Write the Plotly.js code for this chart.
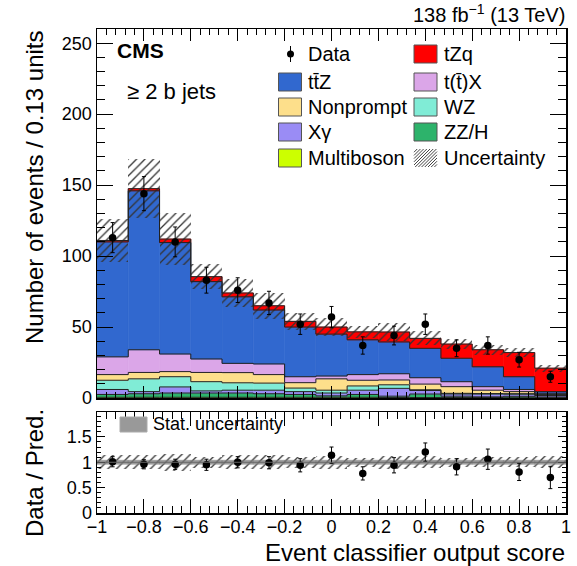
<!DOCTYPE html>
<html><head><meta charset="utf-8">
<script src="https://cdn.plot.ly/plotly-3.0.1.min.js"></script>
<style>html,body{margin:0;padding:0;background:#fff}</style>
</head><body><div id="chart" style="width:577px;height:566px"></div>
<script>
// ---------------- data ----------------
const binEdges = [-1.0, -0.8667, -0.7333, -0.6, -0.4667, -0.3333, -0.2, -0.0667, 0.0667, 0.2, 0.3333, 0.4667, 0.6, 0.7333, 0.8667, 1.0];
const multiboson = [0.5, 0.5, 0.5, 0.5, 0.5, 0.5, 0.5, 0.5, 0.5, 0.3, 0.3, 0.3, 0.3, 0.2, 0.2];
const zzh        = [2.0, 2.5, 3.0, 3.0, 3.0, 2.5, 2.0, 1.0, 2.0, 1.0, 2.5, 1.0, 0.5, 1.0, 0.5];
const xgamma     = [3.5, 1.5, 4.3, 1.5, 2.0, 2.5, 2.0, 2.0, 3.0, 5.5, 2.5, 1.5, 2.0, 1.5, 1.0];
const wz         = [6.5, 9.0, 7.2, 6.5, 5.2, 5.0, 2.5, 2.0, 3.0, 2.5, 0.5, 0.5, 0.3, 0.3, 0.3];
const nonprompt  = [4.0, 4.5, 3.6, 6.5, 7.2, 6.0, 3.8, 8.0, 4.0, 3.4, 4.0, 4.7, 2.4, 1.5, 0.5];
const ttx        = [12.5, 16.0, 12.4, 9.5, 6.5, 7.5, 4.2, 2.0, 4.0, 4.4, 4.5, 3.5, 2.5, 1.5, 0.8];
const ttz        = [81.0, 112.0, 78.5, 54.5, 46.9, 38.0, 35.0, 29.5, 24.5, 22.4, 20.7, 16.5, 14.0, 9.0, 1.2];
const tzq        = [1.0, 1.5, 2.5, 3.5, 2.7, 3.0, 4.0, 5.0, 5.6, 7.0, 7.0, 10.0, 12.0, 17.0, 16.5];
const totalUnc   = [15.0, 21.0, 18.5, 9.0, 10.0, 9.0, 6.0, 6.5, 4.0, 6.0, 5.0, 3.5, 3.5, 3.0, 2.5];
const dataCounts = [113, 144, 110, 83, 76, 67, 52, 57, 37, 44, 52, 35, 37, 27, 15];
const dataErr    = [10.6, 12.0, 10.5, 9.1, 8.7, 8.2, 7.2, 7.5, 6.1, 6.6, 7.2, 5.9, 6.1, 5.2, 3.9];
const ratio      = [1.01, 0.96, 0.96, 0.95, 1.00, 0.99, 0.94, 1.14, 0.78, 0.94, 1.20, 0.91, 1.06, 0.81, 0.70];
const ratioErr   = [0.10, 0.09, 0.10, 0.11, 0.11, 0.12, 0.13, 0.16, 0.13, 0.15, 0.18, 0.16, 0.20, 0.17, 0.22];
const statUnc    = [0.04, 0.04, 0.04, 0.04, 0.04, 0.04, 0.04, 0.04, 0.04, 0.04, 0.04, 0.04, 0.04, 0.04, 0.04];
const legendLeft  = ['Data', 'tt\u0304Z', 'Nonprompt', 'X\u03b3', 'Multiboson'];
const legendRight = ['tZq', 't(t\u0304)X', 'WZ', 'ZZ/H', 'Uncertainty'];

// ---------------- styles ----------------
const stack = [
  {name: 'Multiboson', vals: multiboson, color: '#ccff00'},
  {name: 'ZZ/H', vals: zzh, color: '#2db36b'},
  {name: 'X\u03b3', vals: xgamma, color: '#9a8cf5'},
  {name: 'WZ', vals: wz, color: '#80ecd6'},
  {name: 'Nonprompt', vals: nonprompt, color: '#fddf8b'},
  {name: 't(t\u0304)X', vals: ttx, color: '#dba6e8'},
  {name: 'tt\u0304Z', vals: ttz, color: '#3168cf'},
  {name: 'tZq', vals: tzq, color: '#ff0000'}
];
const FONT = 'Liberation Sans, Arial, Helvetica, sans-serif';
const W = 577, H = 566, L = 97, R = 566, T = 29, B = 513;
const px = x => (x - L) / (R - L);
const py = y => (B - y) / (B - T);

const n = binEdges.length - 1;
const centers = binEdges.slice(0, -1).map((e, i) => (e + binEdges[i + 1]) / 2);
const widths = binEdges.slice(0, -1).map((e, i) => binEdges[i + 1] - e);

const traces = [];
let cum = new Array(n).fill(0);
const boundaries = [];
stack.forEach(s => {
  traces.push({type: 'bar', x: centers, y: s.vals, base: cum.slice(), width: widths,
    marker: {color: s.color, line: {width: 0.6, color: s.color}}, xaxis: 'x', yaxis: 'y',
    showlegend: false, hoverinfo: 'skip', name: s.name});
  cum = cum.map((c, i) => c + s.vals[i]);
  boundaries.push(cum.slice());
});
const total = cum.slice();
boundaries.forEach(b => {
  traces.push({type: 'scatter', mode: 'lines', x: binEdges, y: b.concat([b[n - 1]]),
    line: {shape: 'hv', color: '#222', width: 1}, xaxis: 'x', yaxis: 'y', showlegend: false, hoverinfo: 'skip'});
});
const hatch = {shape: '/', fgcolor: '#333', bgcolor: 'rgba(0,0,0,0)', size: 6, solidity: 0.22};
traces.push({type: 'bar', x: centers, base: total.map((t, i) => t - totalUnc[i]), y: totalUnc.map(u => 2 * u), width: widths,
  marker: {color: 'rgba(0,0,0,0)', line: {width: 0}, pattern: hatch}, xaxis: 'x', yaxis: 'y', showlegend: false, hoverinfo: 'skip'});
traces.push({type: 'scatter', mode: 'markers', x: centers, y: dataCounts,
  marker: {color: '#000', size: 7.5}, error_y: {type: 'data', array: dataErr, color: '#000', thickness: 1, width: 2},
  xaxis: 'x', yaxis: 'y', showlegend: false, hoverinfo: 'skip'});

// ratio panel
const relUnc = totalUnc.map((u, i) => u / total[i]);
traces.push({type: 'bar', x: centers, base: relUnc.map(r => 1 - r), y: relUnc.map(r => 2 * r), width: widths,
  marker: {color: 'rgba(0,0,0,0)', line: {width: 0}, pattern: hatch}, xaxis: 'x2', yaxis: 'y2', showlegend: false, hoverinfo: 'skip'});
traces.push({type: 'bar', x: centers, base: statUnc.map(s => 1 - s), y: statUnc.map(s => 2 * s), width: widths,
  marker: {color: 'rgba(130,130,130,0.75)', line: {width: 0.6, color: 'rgba(130,130,130,0.75)'}}, xaxis: 'x2', yaxis: 'y2', showlegend: false, hoverinfo: 'skip'});
traces.push({type: 'scatter', mode: 'markers', x: centers, y: ratio,
  marker: {color: '#000', size: 7.5}, error_y: {type: 'data', array: ratioErr, color: '#000', thickness: 1, width: 2},
  xaxis: 'x2', yaxis: 'y2', showlegend: false, hoverinfo: 'skip'});

// ---------------- layout ----------------
const axBase = {showline: true, linecolor: '#000', linewidth: 1.5, mirror: 'allticks', ticks: 'inside',
  tickcolor: '#000', tickwidth: 1, showgrid: false, zeroline: false, tickfont: {family: FONT, size: 18, color: '#000'}};
const upperDomain = [(B - 398) / (B - T), 1];
const lowerDomain = [0, (B - 412) / (B - T)];

const annotations = [];
const shapes = [];
function txt(text, x, y, size, opts) {
  annotations.push(Object.assign({text: text, x: px(x), y: py(y), xref: 'paper', yref: 'paper', showarrow: false,
    xanchor: 'left', yanchor: 'middle', font: {family: FONT, size: size, color: '#000'}}, opts || {}));
}
txt('<b>CMS</b>', 115, 51, 21);
txt('\u2265 2 b jets', 125, 91, 22);
txt('138 fb<sup>\u22121</sup> (13 TeV)', 567, 13, 20, {xanchor: 'right'});
txt('Event classifier output score', 567, 552, 24, {xanchor: 'right'});
txt('Number of events / 0.13 units', 34, 28, 24, {xanchor: 'center', yanchor: 'top', textangle: -90});
txt('Data / Pred.', 34, 473, 24, {xanchor: 'center', textangle: -90});
txt('Stat. uncertainty', 151, 424, 18);

// legend
const rowsY = [54, 82, 107, 132, 158];
const colorOf = name => (stack.find(s => s.name === name) || {}).color;
function swatch(x0, yc, color) {
  shapes.push({type: 'rect', xref: 'paper', yref: 'paper', x0: px(x0), x1: px(x0 + 23), y0: py(yc + 9), y1: py(yc - 9),
    fillcolor: color, line: {color: '#555', width: 1}});
}
function hatchSwatch(x0, yc) {
  const xa = x0, xb = x0 + 23, ya = yc - 9, yb = yc + 9, h = yb - ya;
  let p = '';
  for (let k = -h; k < xb - xa; k += 3.2) {
    const s0 = Math.max(0, -k), s1 = Math.min(h, xb - xa - k);
    if (s1 <= s0) continue;
    p += 'M' + px(xa + k + s0) + ',' + py(yb - s0) + 'L' + px(xa + k + s1) + ',' + py(yb - s1);
  }
  shapes.push({type: 'path', xref: 'paper', yref: 'paper', path: p, line: {color: '#444', width: 1}});
}
legendLeft.forEach((name, i) => {
  const yc = rowsY[i];
  if (name === 'Data') {
    shapes.push({type: 'line', xref: 'paper', yref: 'paper', x0: px(290.5), x1: px(290.5), y0: py(yc - 8), y1: py(yc + 8), line: {color: '#000', width: 1}});
    shapes.push({type: 'circle', xref: 'paper', yref: 'paper', x0: px(287), x1: px(294), y0: py(yc + 3.5), y1: py(yc - 3.5), fillcolor: '#000', line: {color: '#000', width: 0}});
  } else {
    swatch(278.5, yc, colorOf(name));
  }
  txt(name, 306, yc, 20);
});
legendRight.forEach((name, i) => {
  const yc = rowsY[i];
  if (name === 'Uncertainty') hatchSwatch(414, yc);
  else swatch(414, yc, colorOf(name));
  txt(name, 442, yc, 20);
});
// ratio legend swatch
shapes.push({type: 'rect', xref: 'paper', yref: 'paper', x0: px(120), x1: px(147), y0: py(432), y1: py(417),
  fillcolor: '#999', line: {color: '#aaa', width: 1}});
// line at 1 in ratio
shapes.push({type: 'line', xref: 'x2', yref: 'y2', x0: -1, x1: 1, y0: 1, y1: 1, line: {color: '#666', width: 1}});

const layout = {
  width: W, height: H, margin: {l: L, r: W - R, t: T, b: H - B},
  paper_bgcolor: '#fff', plot_bgcolor: '#fff', barmode: 'overlay', bargap: 0,
  showlegend: false, font: {family: FONT, color: '#000'},
  xaxis: Object.assign({}, axBase, {domain: [0, 1], anchor: 'y', range: [-1, 1], tick0: -1, dtick: 0.2, ticklen: 12,
    showticklabels: false, minor: {ticks: 'inside', ticklen: 6, dtick: 0.04, tickcolor: '#000'}}),
  yaxis: Object.assign({}, axBase, {domain: upperDomain, anchor: 'x', range: [0, 260], tick0: 0, dtick: 50, ticklen: 16,
    minor: {ticks: 'inside', ticklen: 8, dtick: 10, tickcolor: '#000'}}),
  xaxis2: Object.assign({}, axBase, {domain: [0, 1], anchor: 'y2', range: [-1, 1], tick0: -1, dtick: 0.2, ticklen: 14,
    ticklabelstandoff: -3,
    minor: {ticks: 'inside', ticklen: 7, dtick: 0.04, tickcolor: '#000'}}),
  yaxis2: Object.assign({}, axBase, {domain: lowerDomain, anchor: 'x2', range: [0, 1.99], tick0: 0, dtick: 0.5, ticklen: 8,
    minor: {ticks: 'inside', ticklen: 4, dtick: 0.1, tickcolor: '#000'}}),
  annotations: annotations, shapes: shapes
};
Plotly.newPlot('chart', traces, layout, {displayModeBar: false, staticPlot: true});
</script>
</body></html>
